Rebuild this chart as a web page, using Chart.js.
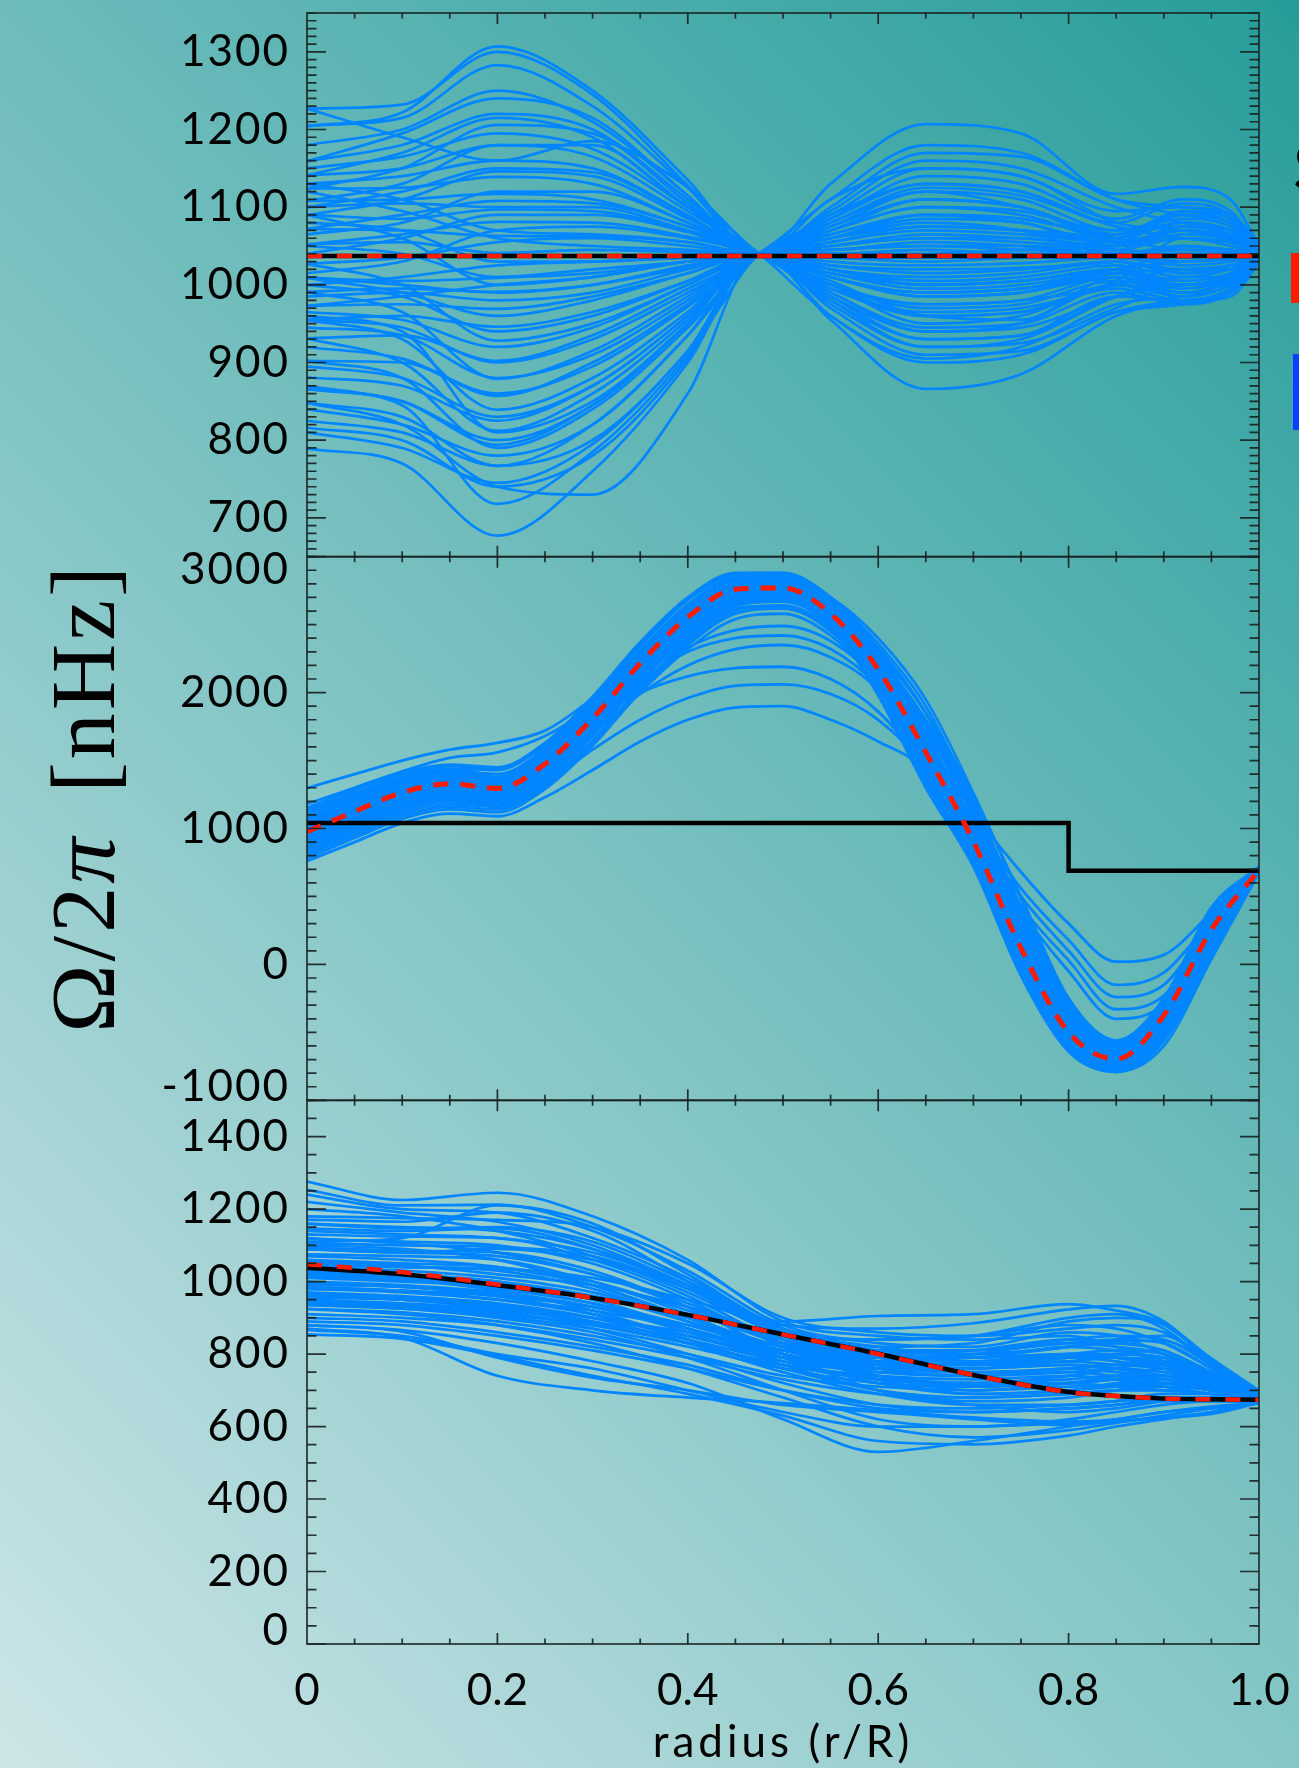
<!DOCTYPE html>
<html>
<head>
<meta charset="utf-8">
<script src="https://cdn.jsdelivr.net/npm/chart.js@4.4.1/dist/chart.umd.min.js"></script>
<style>
  html, body { margin: 0; padding: 0; overflow: hidden; background: #8cc6c6; }
  canvas { display: block; }
</style>
</head>
<body>
<canvas id="omega" width="1299" height="1768"></canvas>
<script>
// radius grids (r/R) for each panel
const TOP_R = [0, 0.1, 0.2, 0.3, 0.4, 0.475, 0.55, 0.65, 0.75, 0.85, 0.92, 0.97, 1.0];
const MID_R = [0, 0.05, 0.1, 0.15, 0.2, 0.25, 0.3, 0.35, 0.4, 0.45, 0.5, 0.55, 0.6, 0.65, 0.7, 0.75, 0.8, 0.85, 0.9, 0.95, 1.0];
const BOT_R = [0, 0.1, 0.2, 0.3, 0.4, 0.5, 0.6, 0.7, 0.8, 0.85, 0.9, 0.95, 1.0];

// input profiles (black) and mean of inversions (red dashed), nHz
const TOP_LINE_R = [0, 1];
const TOP_TRUE = [1037, 1037];
const TOP_MEAN = [1037, 1037];
const MID_TRUE_R = [0, 0.8, 0.8, 1.0];
const MID_TRUE = [1040, 1040, 690, 690];
const MID_MEAN = [977, 1125, 1265, 1330, 1295, 1475, 1810, 2215, 2555, 2760, 2770, 2580, 2170, 1560, 905, 120, -500, -695, -375, 255, 695];
const BOT_TRUE = [1038, 1020, 990, 955, 908, 854, 801, 742, 695, 684, 677, 675, 674];
const BOT_MEAN = [1048, 1026, 992, 955, 908, 854, 800, 742, 695, 684, 677, 675, 674];

// individual inversions, uniform rotation
const TOP_RUNS = [
  [1204, 1222, 1307, 1250, 1135, 1040, 1110, 1150, 1140, 1080, 1070, 1060, 1045],
  [1227, 1232, 1300, 1245, 1128, 1040, 1005, 960, 955, 1010, 1000, 1012, 1035],
  [1205, 1215, 1283, 1230, 1125, 1040, 1080, 1120, 1100, 1060, 1095, 1085, 1050],
  [1227, 1190, 1160, 1185, 1125, 1040, 1000, 950, 960, 1000, 990, 1005, 1030],
  [1159, 1195, 1240, 1215, 1115, 1040, 1130, 1207, 1195, 1117, 1126, 1110, 1050],
  [1159, 1180, 1220, 1200, 1110, 1040, 1060, 1080, 1070, 1040, 1050, 1045, 1040],
  [1141, 1170, 1215, 1190, 1100, 1040, 960, 905, 920, 975, 985, 1000, 1030],
  [1124, 1150, 1206, 1195, 1105, 1040, 1100, 1170, 1165, 1110, 1100, 1090, 1055],
  [1141, 1150, 1180, 1165, 1095, 1040, 1020, 1010, 1015, 1030, 1020, 1025, 1035],
  [1108, 1130, 1180, 1180, 1100, 1040, 1085, 1140, 1130, 1085, 1110, 1095, 1050],
  [1090, 1110, 1146, 1140, 1085, 1040, 990, 940, 950, 1000, 985, 1000, 1030],
  [1124, 1125, 1139, 1130, 1080, 1040, 1070, 1100, 1095, 1070, 1085, 1075, 1045],
  [1108, 1110, 1117, 1110, 1075, 1040, 1010, 985, 990, 1010, 990, 1005, 1035],
  [1072, 1090, 1108, 1105, 1075, 1040, 1075, 1120, 1110, 1070, 1075, 1070, 1045],
  [1090, 1085, 1097, 1095, 1070, 1040, 1050, 1060, 1060, 1050, 1060, 1055, 1042],
  [1052, 1065, 1081, 1080, 1062, 1040, 1000, 960, 965, 995, 980, 995, 1032],
  [1072, 1070, 1063, 1062, 1055, 1040, 1065, 1090, 1085, 1065, 1090, 1080, 1048],
  [1052, 1055, 1041, 1045, 1042, 1040, 1030, 1025, 1028, 1035, 1030, 1035, 1040],
  [1027, 1035, 1055, 1060, 1050, 1040, 1055, 1070, 1065, 1055, 1070, 1062, 1045],
  [1120, 1095, 1060, 1050, 1045, 1040, 1045, 1050, 1045, 1040, 1045, 1042, 1040],
  [1009, 1005, 1009, 1015, 1030, 1040, 1020, 1005, 1010, 1025, 1010, 1020, 1036],
  [991, 995, 991, 1000, 1022, 1040, 1070, 1100, 1090, 1060, 1080, 1070, 1045],
  [973, 975, 969, 985, 1015, 1040, 1010, 985, 990, 1015, 1000, 1010, 1034],
  [955, 960, 946, 965, 1005, 1040, 1060, 1085, 1080, 1050, 1065, 1058, 1043],
  [1027, 1000, 928, 950, 1000, 1040, 995, 960, 965, 1000, 985, 1000, 1032],
  [931, 935, 902, 935, 995, 1040, 1090, 1150, 1140, 1095, 1100, 1085, 1050],
  [991, 965, 879, 915, 985, 1040, 1000, 975, 980, 1010, 995, 1008, 1035],
  [902, 900, 857, 900, 975, 1040, 1045, 1055, 1050, 1040, 1050, 1045, 1040],
  [955, 930, 839, 880, 965, 1040, 980, 930, 935, 985, 980, 995, 1030],
  [881, 870, 825, 870, 960, 1040, 1075, 1110, 1100, 1065, 1095, 1080, 1048],
  [931, 900, 812, 860, 955, 1040, 1025, 1015, 1020, 1030, 1015, 1025, 1038],
  [866, 850, 794, 845, 950, 1040, 990, 945, 950, 990, 975, 990, 1030],
  [902, 880, 790, 840, 945, 1040, 1060, 1090, 1080, 1055, 1070, 1060, 1045],
  [848, 830, 767, 820, 935, 1040, 1010, 990, 995, 1015, 1000, 1012, 1036],
  [825, 810, 767, 800, 915, 1040, 960, 900, 910, 965, 980, 990, 1030],
  [816, 800, 740, 780, 905, 1040, 955, 866, 885, 960, 978, 985, 1028],
  [848, 820, 740, 730, 860, 1040, 1040, 1045, 1040, 1040, 1040, 1040, 1040],
  [789, 770, 677, 760, 900, 1040, 1015, 1000, 1005, 1020, 1005, 1015, 1036],
  [866, 845, 718, 785, 910, 1040, 1070, 1110, 1100, 1065, 1080, 1070, 1046],
  [1009, 990, 960, 980, 1015, 1040, 1020, 1000, 1005, 1020, 1000, 1012, 1036],
  [1050, 1040, 1010, 1020, 1030, 1040, 985, 930, 935, 985, 1000, 1005, 1032],
  [973, 985, 1000, 1010, 1030, 1040, 1050, 1065, 1060, 1050, 1070, 1062, 1044],
  [1080, 1070, 1030, 1030, 1035, 1040, 1035, 1030, 1035, 1040, 1030, 1035, 1040],
  [955, 945, 900, 930, 990, 1040, 1110, 1180, 1170, 1110, 1090, 1080, 1050],
  [1000, 985, 940, 960, 1005, 1040, 975, 920, 925, 970, 1000, 1000, 1030],
  [1100, 1105, 1100, 1100, 1070, 1040, 1000, 975, 980, 1005, 1060, 1050, 1040],
  [1180, 1200, 1250, 1210, 1115, 1040, 1090, 1130, 1120, 1080, 1105, 1090, 1050],
  [1150, 1165, 1195, 1175, 1100, 1040, 1015, 995, 1000, 1020, 1040, 1035, 1040],
  [1130, 1140, 1160, 1150, 1090, 1040, 1095, 1160, 1150, 1100, 1080, 1070, 1045],
  [1100, 1120, 1150, 1145, 1088, 1040, 1040, 1040, 1045, 1050, 1075, 1065, 1045],
  [1065, 1080, 1120, 1120, 1080, 1040, 980, 920, 930, 985, 1010, 1010, 1035],
  [1040, 1060, 1090, 1090, 1068, 1040, 1085, 1130, 1120, 1075, 1060, 1055, 1042],
  [1015, 1030, 1070, 1075, 1060, 1040, 1010, 990, 995, 1015, 1020, 1025, 1038],
  [1000, 1010, 1025, 1030, 1035, 1040, 1060, 1075, 1070, 1055, 1090, 1080, 1048],
  [985, 990, 980, 990, 1020, 1040, 1025, 1020, 1022, 1030, 1050, 1045, 1040],
  [965, 955, 920, 945, 1000, 1040, 1050, 1060, 1055, 1045, 1035, 1038, 1040],
  [945, 935, 880, 910, 980, 1040, 995, 965, 970, 1000, 1020, 1020, 1036],
  [920, 905, 860, 895, 972, 1040, 1080, 1125, 1115, 1075, 1060, 1055, 1044],
  [895, 880, 830, 870, 960, 1040, 1000, 970, 975, 1005, 990, 1005, 1034],
  [870, 850, 800, 845, 950, 1040, 1035, 1035, 1035, 1035, 1025, 1030, 1038],
  [840, 820, 780, 820, 935, 1040, 1065, 1090, 1085, 1060, 1045, 1045, 1040],
  [810, 790, 745, 795, 915, 1040, 985, 940, 945, 985, 1000, 1005, 1034],
  [960, 940, 810, 850, 950, 1040, 1020, 1000, 1005, 1020, 1030, 1032, 1038],
  [1090, 1060, 1000, 1010, 1030, 1040, 1045, 1050, 1050, 1045, 1060, 1055, 1042],
  [1010, 1000, 990, 1000, 1025, 1040, 970, 910, 915, 965, 975, 990, 1030],
  [1130, 1110, 1070, 1065, 1055, 1040, 1055, 1075, 1070, 1055, 1015, 1020, 1036]
];

// individual inversions, core/envelope step profile
const MID_RUNS = [
  [990, 1140, 1280, 1350, 1320, 1500, 1840, 2240, 2580, 2790, 2810, 2630, 2230, 1640, 980, 190, -430, -660, -380, 230, 690],
  [940, 1090, 1230, 1300, 1260, 1430, 1760, 2160, 2500, 2710, 2730, 2540, 2120, 1500, 840, 60, -560, -740, -430, 210, 690],
  [1050, 1190, 1320, 1390, 1360, 1540, 1880, 2280, 2620, 2830, 2850, 2670, 2280, 1800, 1200, 380, -300, -600, -300, 380, 710],
  [900, 1050, 1190, 1250, 1210, 1380, 1700, 2090, 2430, 2650, 2680, 2500, 2100, 1500, 860, 80, -540, -760, -520, 80, 680],
  [1010, 1160, 1290, 1350, 1300, 1470, 1790, 2190, 2530, 2740, 2750, 2550, 2130, 1500, 830, 40, -570, -770, -450, 220, 700],
  [960, 1110, 1250, 1310, 1275, 1450, 1780, 2180, 2520, 2730, 2760, 2590, 2200, 1610, 960, 170, -460, -680, -350, 270, 705],
  [870, 1020, 1160, 1230, 1200, 1370, 1690, 2080, 2410, 2620, 2640, 2460, 2060, 1460, 810, 40, -560, -740, -470, 150, 690],
  [1100, 1240, 1360, 1420, 1400, 1590, 1940, 2340, 2680, 2870, 2880, 2700, 2310, 1850, 1240, 500, -250, -560, -250, 420, 720],
  [820, 970, 1110, 1180, 1160, 1320, 1640, 2030, 2370, 2590, 2620, 2450, 2060, 1400, 770, -60, -620, -780, -560, 60, 680],
  [1000, 1150, 1280, 1330, 1290, 1460, 1800, 2200, 2540, 2770, 2800, 2640, 2260, 1670, 1000, 210, -420, -650, -340, 260, 700],
  [930, 1080, 1220, 1290, 1250, 1420, 1740, 2130, 2470, 2690, 2710, 2520, 2110, 1490, 830, 40, -580, -780, -560, 120, 690],
  [1130, 1260, 1380, 1440, 1430, 1620, 1960, 2360, 2690, 2870, 2870, 2680, 2280, 1780, 1150, 420, -300, -600, -260, 400, 715],
  [850, 1000, 1150, 1220, 1190, 1360, 1680, 2080, 2420, 2640, 2670, 2500, 2110, 1520, 880, 110, -500, -700, -390, 230, 695],
  [980, 1130, 1270, 1340, 1310, 1490, 1830, 2230, 2570, 2780, 2790, 2600, 2190, 1580, 920, 130, -490, -690, -370, 250, 695],
  [1060, 1200, 1330, 1390, 1350, 1520, 1850, 2250, 2590, 2800, 2820, 2650, 2270, 1690, 1030, 240, -400, -650, -320, 350, 705],
  [910, 1060, 1200, 1270, 1240, 1420, 1750, 2150, 2490, 2700, 2720, 2530, 2130, 1530, 880, 90, -530, -730, -410, 220, 690],
  [800, 950, 1090, 1160, 1140, 1310, 1620, 2000, 2320, 2540, 2580, 2420, 2050, 1390, 760, -80, -640, -790, -600, 40, 675],
  [1020, 1170, 1300, 1360, 1320, 1490, 1820, 2220, 2560, 2770, 2790, 2620, 2230, 1640, 970, 180, -450, -680, -370, 240, 700],
  [1080, 1220, 1340, 1400, 1370, 1560, 1900, 2300, 2640, 2840, 2850, 2660, 2250, 1650, 990, 200, -440, -670, -360, 250, 700],
  [780, 930, 1070, 1140, 1120, 1290, 1610, 2010, 2350, 2580, 2620, 2470, 2090, 1480, 840, 60, -550, -760, -450, 200, 690],
  [960, 1100, 1240, 1320, 1300, 1480, 1820, 2220, 2560, 2770, 2780, 2590, 2180, 1560, 880, 80, -560, -770, -480, 160, 690],
  [1150, 1280, 1400, 1460, 1440, 1610, 1930, 2310, 2630, 2810, 2820, 2640, 2240, 1660, 1010, 230, -410, -640, -330, 270, 700],
  [1040, 1180, 1310, 1370, 1340, 1520, 1870, 2270, 2610, 2810, 2830, 2660, 2300, 1760, 1130, 330, -330, -610, -300, 320, 705],
  [880, 1030, 1170, 1240, 1210, 1380, 1700, 2090, 2430, 2650, 2690, 2510, 2060, 1420, 780, -20, -600, -780, -520, 100, 685],
  [990, 1130, 1260, 1320, 1290, 1470, 1810, 2210, 2550, 2760, 2780, 2600, 2250, 1720, 1100, 300, -350, -620, -290, 330, 705],
  [920, 1070, 1210, 1280, 1250, 1430, 1770, 2170, 2510, 2720, 2740, 2550, 2100, 1450, 790, 0, -590, -770, -500, 140, 688],
  [1070, 1220, 1350, 1410, 1380, 1570, 1910, 2310, 2650, 2850, 2860, 2680, 2300, 1740, 1090, 300, -360, -630, -310, 310, 705],
  [840, 990, 1130, 1200, 1170, 1340, 1650, 2040, 2390, 2610, 2640, 2480, 2080, 1440, 800, 20, -590, -770, -470, 180, 690],
  [1000, 1150, 1290, 1360, 1330, 1500, 1830, 2220, 2560, 2770, 2790, 2620, 2240, 1650, 1010, 230, -420, -660, -350, 260, 700],
  [950, 1100, 1240, 1310, 1280, 1460, 1790, 2190, 2530, 2740, 2760, 2570, 2160, 1540, 870, 70, -560, -760, -460, 190, 690],
  [1150, 1290, 1410, 1470, 1450, 1630, 1970, 2370, 2700, 2880, 2880, 2700, 2320, 1740, 1080, 280, -370, -620, -300, 320, 705],
  [860, 1010, 1150, 1220, 1200, 1380, 1710, 2110, 2450, 2670, 2700, 2530, 2140, 1550, 900, 120, -500, -720, -420, 210, 692],
  [1020, 1170, 1300, 1370, 1340, 1520, 1860, 2270, 2620, 2830, 2850, 2700, 2400, 1950, 1260, 480, -280, -580, -280, 360, 710],
  [930, 1080, 1220, 1290, 1260, 1440, 1770, 2170, 2510, 2720, 2730, 2500, 1980, 1300, 720, -80, -630, -790, -560, 90, 680],
  [1060, 1200, 1330, 1400, 1370, 1550, 1890, 2290, 2630, 2830, 2840, 2690, 2360, 1900, 1200, 420, -320, -600, -290, 350, 708],
  [890, 1040, 1180, 1250, 1220, 1400, 1720, 2120, 2460, 2680, 2700, 2480, 2000, 1340, 740, -50, -610, -780, -540, 110, 684],
  [970, 1120, 1260, 1330, 1300, 1480, 1810, 2210, 2550, 2760, 2790, 2650, 2330, 1850, 1150, 350, -380, -640, -320, 300, 702],
  [1010, 1150, 1290, 1350, 1320, 1500, 1830, 2230, 2570, 2780, 2780, 2560, 2050, 1360, 760, -30, -600, -780, -500, 130, 686],
  [1297, 1400, 1500, 1580, 1630, 1720, 1960, 2280, 2560, 2700, 2690, 2500, 2120, 1540, 900, 160, -420, -600, -300, 260, 700],
  [1180, 1300, 1420, 1520, 1560, 1680, 1900, 2200, 2480, 2660, 2680, 2520, 2140, 1560, 930, 180, -380, -580, -320, 230, 695],
  [760, 900, 1040, 1110, 1090, 1230, 1430, 1640, 1800, 1890, 1900, 1800, 1640, 1420, 860, 90, -520, -720, -410, 220, 690],
  [870, 1010, 1150, 1210, 1180, 1330, 1580, 1800, 1960, 2050, 2060, 1990, 1800, 1450, 880, 110, -500, -700, -390, 230, 695],
  [1120, 1250, 1370, 1430, 1400, 1550, 1800, 2000, 2120, 2180, 2190, 2100, 1860, 1440, 870, 100, -510, -710, -400, 220, 690],
  [950, 1100, 1240, 1300, 1260, 1420, 1700, 1990, 2200, 2320, 2350, 2260, 2020, 1520, 900, 120, -490, -700, -390, 230, 695],
  [1000, 1140, 1270, 1330, 1290, 1460, 1760, 2080, 2300, 2400, 2420, 2320, 2040, 1530, 880, 90, -520, -720, -400, 230, 695],
  [900, 1040, 1180, 1250, 1220, 1390, 1700, 2060, 2330, 2460, 2490, 2380, 2080, 1520, 860, 70, -540, -730, -410, 220, 690],
  [1000, 1150, 1290, 1350, 1310, 1490, 1830, 2230, 2570, 2770, 2780, 2600, 2220, 1660, 1120, 680, 300, 20, 70, 380, 705],
  [940, 1090, 1230, 1300, 1270, 1440, 1770, 2170, 2510, 2720, 2740, 2560, 2180, 1620, 1060, 560, 180, -150, -60, 330, 700],
  [1070, 1210, 1340, 1400, 1370, 1550, 1880, 2270, 2600, 2800, 2800, 2610, 2210, 1630, 1030, 500, 100, -240, -150, 300, 700],
  [890, 1040, 1180, 1250, 1220, 1400, 1730, 2130, 2470, 2690, 2710, 2530, 2150, 1580, 990, 430, 30, -330, -230, 280, 695],
  [1030, 1170, 1300, 1360, 1330, 1510, 1850, 2250, 2590, 2790, 2800, 2620, 2230, 1640, 1000, 400, -50, -400, -290, 260, 695]
];

// individual inversions, smooth decreasing profile
const BOT_RUNS = [
  [1276, 1225, 1245, 1180, 1060, 890, 850, 840, 850, 820, 780, 720, 685],
  [1253, 1210, 1212, 1150, 1030, 880, 830, 820, 860, 850, 800, 740, 690],
  [1220, 1190, 1165, 1100, 990, 860, 800, 790, 820, 810, 780, 730, 680],
  [1171, 1165, 1190, 1140, 1000, 840, 760, 740, 760, 750, 740, 720, 675],
  [1159, 1147, 1150, 1110, 1000, 890, 905, 910, 938, 920, 885, 788, 700],
  [1147, 1140, 1147, 1090, 980, 850, 780, 770, 790, 800, 790, 750, 685],
  [1130, 1124, 1120, 1060, 960, 830, 740, 700, 720, 740, 760, 740, 680],
  [1118, 1110, 1100, 1050, 950, 820, 730, 690, 700, 710, 720, 700, 675],
  [1106, 1100, 1095, 1070, 980, 860, 820, 830, 890, 900, 880, 780, 690],
  [1094, 1085, 1080, 1030, 930, 800, 700, 660, 640, 650, 670, 680, 670],
  [1089, 1080, 1070, 1020, 940, 840, 790, 780, 800, 790, 760, 720, 680],
  [1075, 1070, 1060, 1000, 910, 800, 760, 760, 780, 770, 760, 730, 680],
  [1060, 1050, 1040, 1000, 920, 830, 800, 810, 840, 830, 810, 750, 685],
  [1050, 1040, 1030, 980, 890, 790, 720, 690, 700, 720, 730, 700, 675],
  [1040, 1030, 1010, 970, 900, 820, 780, 770, 790, 780, 760, 720, 680],
  [1030, 1020, 1000, 950, 870, 780, 730, 720, 740, 760, 780, 740, 680],
  [1020, 1010, 990, 960, 910, 850, 840, 850, 880, 870, 830, 760, 685],
  [1010, 1000, 985, 940, 870, 790, 760, 760, 770, 760, 740, 710, 678],
  [1000, 990, 970, 930, 860, 770, 700, 670, 680, 700, 720, 700, 672],
  [990, 985, 960, 910, 840, 760, 720, 710, 720, 710, 700, 690, 670],
  [980, 970, 950, 920, 870, 800, 770, 760, 770, 760, 740, 710, 678],
  [970, 960, 940, 900, 830, 750, 690, 660, 660, 670, 690, 690, 670],
  [960, 950, 930, 890, 840, 780, 750, 740, 750, 740, 730, 710, 675],
  [950, 940, 920, 870, 800, 720, 660, 640, 650, 660, 670, 670, 668],
  [940, 930, 910, 880, 830, 770, 740, 730, 740, 730, 710, 690, 672],
  [936, 925, 900, 860, 790, 700, 620, 600, 620, 640, 660, 670, 668],
  [924, 910, 880, 830, 760, 680, 600, 570, 590, 610, 630, 650, 665],
  [900, 890, 860, 820, 770, 700, 650, 640, 650, 660, 680, 680, 668],
  [880, 866, 830, 780, 720, 620, 530, 560, 600, 620, 640, 655, 665],
  [866, 850, 800, 760, 700, 640, 600, 600, 610, 615, 625, 640, 665],
  [854, 842, 795, 740, 690, 630, 560, 551, 575, 600, 620, 640, 665],
  [880, 862, 790, 735, 700, 660, 640, 620, 604, 614, 624, 635, 665],
  [870, 845, 740, 700, 680, 665, 645, 625, 614, 620, 640, 650, 665],
  [1180, 1175, 1170, 1150, 1050, 900, 860, 850, 870, 880, 860, 780, 690],
  [1110, 1120, 1210, 1160, 1020, 870, 820, 800, 820, 840, 850, 770, 688],
  [1045, 1040, 1035, 1010, 950, 880, 870, 885, 923, 933, 890, 780, 698],
  [1015, 1005, 980, 940, 880, 810, 780, 790, 820, 836, 836, 770, 690],
  [985, 975, 950, 910, 850, 790, 770, 775, 790, 790, 770, 730, 680],
  [955, 950, 930, 900, 860, 810, 790, 790, 800, 790, 770, 730, 680],
  [1070, 1060, 1040, 990, 900, 800, 740, 720, 720, 730, 740, 720, 676],
  [1120, 1105, 1080, 1020, 930, 830, 770, 750, 760, 770, 770, 730, 680],
  [925, 915, 890, 850, 800, 740, 710, 700, 710, 715, 720, 705, 672],
  [1100, 1090, 1060, 990, 900, 820, 790, 800, 830, 820, 800, 740, 682],
  [960, 950, 925, 885, 830, 770, 730, 715, 720, 730, 740, 720, 675],
  [1240, 1200, 1190, 1120, 1010, 870, 810, 800, 820, 830, 810, 750, 685],
  [1200, 1180, 1140, 1070, 970, 850, 790, 780, 800, 810, 800, 745, 685],
  [1140, 1130, 1120, 1080, 990, 870, 840, 850, 900, 910, 870, 770, 690],
  [1090, 1080, 1090, 1060, 980, 860, 800, 790, 800, 800, 790, 750, 684],
  [1055, 1045, 1020, 990, 930, 850, 810, 810, 830, 840, 830, 760, 686],
  [1025, 1015, 1000, 960, 890, 810, 770, 770, 790, 800, 790, 740, 680],
  [995, 985, 965, 930, 870, 800, 760, 750, 760, 770, 770, 730, 678],
  [965, 955, 935, 900, 850, 790, 750, 740, 750, 760, 750, 720, 676],
  [935, 925, 905, 870, 820, 760, 720, 710, 720, 730, 720, 700, 672],
  [910, 900, 880, 840, 790, 730, 690, 680, 690, 700, 700, 690, 670],
  [890, 880, 850, 810, 760, 700, 660, 650, 660, 670, 680, 680, 668],
  [1020, 1005, 975, 920, 840, 760, 700, 680, 690, 700, 710, 700, 672],
  [1160, 1150, 1140, 1090, 990, 860, 790, 770, 780, 790, 780, 740, 682],
  [980, 975, 960, 930, 880, 820, 800, 810, 840, 850, 840, 770, 688],
  [945, 935, 915, 880, 830, 770, 730, 720, 730, 740, 740, 715, 674]
];

// axis ticks and labels
const TOP_TICKS = [700, 800, 900, 1000, 1100, 1200, 1300];
const TOP_LABELS = ['700', '800', '900', '1000', '1100', '1200', '1300'];
const MID_TICKS = [-1000, 0, 1000, 2000, 3000];
const MID_LABELS = ['-1000', '0', '1000', '2000', '3000'];
const BOT_TICKS = [0, 200, 400, 600, 800, 1000, 1200, 1400];
const BOT_LABELS = ['0', '200', '400', '600', '800', '1000', '1200', '1400'];
const X_TICKS = [0, 0.2, 0.4, 0.6, 0.8, 1.0];
const X_LABELS = ['0', '0.2', '0.4', '0.6', '0.8', '1.0'];

const BLUE = '#0286ff';
const RED = '#ff1a00';
const AXIS = 'rgba(25,35,35,0.92)';
const LABEL_FONT = '44px Lato';

function pts(xs, ys) {
  return xs.map((x, i) => ({ x: x, y: ys[i] }));
}

function curve(xs, ys, axis, color, width, order, extra) {
  return Object.assign({
    data: pts(xs, ys),
    yAxisID: axis,
    borderColor: color,
    borderWidth: width,
    pointRadius: 0,
    fill: false,
    cubicInterpolationMode: 'monotone',
    order: order
  }, extra || {});
}

const datasets = [];
// red dashed means on top, black inputs under them, blue runs at the bottom
datasets.push(curve(TOP_LINE_R, TOP_MEAN, 'yTop', RED, 4.5, 0, { borderDash: [15, 15], tension: 0, cubicInterpolationMode: 'default' }));
datasets.push(curve(MID_R, MID_MEAN, 'yMid', RED, 5, 0, { borderDash: [15, 12] }));
datasets.push(curve(BOT_R, BOT_MEAN, 'yBot', RED, 4.5, 0, { borderDash: [15, 15] }));
datasets.push(curve(TOP_LINE_R, TOP_TRUE, 'yTop', '#000', 4.5, 1, { tension: 0, cubicInterpolationMode: 'default' }));
datasets.push(curve(MID_TRUE_R, MID_TRUE, 'yMid', '#000', 4.5, 1, { tension: 0, cubicInterpolationMode: 'default' }));
datasets.push(curve(BOT_R, BOT_TRUE, 'yBot', '#000', 4.5, 1));
TOP_RUNS.forEach(r => datasets.push(curve(TOP_R, r, 'yTop', BLUE, 2.7, 2)));
MID_RUNS.forEach(r => datasets.push(curve(MID_R, r, 'yMid', BLUE, 2.8, 2)));
BOT_RUNS.forEach(r => datasets.push(curve(BOT_R, r, 'yBot', BLUE, 2.7, 2)));

const PANELS = [
  { id: 'yTop', ticks: TOP_TICKS, labels: TOP_LABELS, minor: 10 },
  { id: 'yMid', ticks: MID_TICKS, labels: MID_LABELS, minor: 100 },
  { id: 'yBot', ticks: BOT_TICKS, labels: BOT_LABELS, minor: 50 }
];

function drawYTitle(ctx) {
  // Ω/2π [nHz], read bottom to top
  const size = 92;
  const parts = [
    { t: 'Ω/2', f: size + 'px "Liberation Serif"' },
    { t: 'π', f: 'italic ' + size + 'px "Liberation Serif"' },
    { gap: 42 },
    { t: '[nHz]', f: size + 'px "Liberation Serif"' }
  ];
  ctx.save();
  ctx.letterSpacing = '3px';
  let total = 0;
  parts.forEach(p => {
    if (p.gap) { p.w = p.gap; } else { ctx.font = p.f; p.w = ctx.measureText(p.t).width; }
    total += p.w;
  });
  ctx.translate(114, 798);
  ctx.rotate(-Math.PI / 2);
  ctx.fillStyle = '#000';
  ctx.textBaseline = 'alphabetic';
  ctx.textAlign = 'left';
  let x = -total / 2;
  parts.forEach(p => {
    if (!p.gap) { ctx.font = p.f; ctx.fillText(p.t, x, 0); }
    x += p.w;
  });
  ctx.restore();
}

const frame = {
  id: 'frame',
  beforeDraw(chart) {
    const ctx = chart.ctx;
    const g = ctx.createLinearGradient(0, 1768, 1533, 235);
    g.addColorStop(0, 'rgb(205,229,231)');
    g.addColorStop(1, 'rgb(38,157,154)');
    ctx.save();
    ctx.fillStyle = g;
    ctx.fillRect(0, 0, chart.width, chart.height);
    ctx.restore();
  },
  afterDatasetsDraw(chart) {
    const ctx = chart.ctx;
    const a = chart.chartArea;
    const xs = chart.scales.x;
    ctx.save();
    ctx.strokeStyle = AXIS;
    ctx.lineWidth = 1.7;
    PANELS.forEach(p => {
      const s = chart.scales[p.id];
      const top = s.top, bot = s.bottom;
      ctx.strokeRect(a.left, top, a.right - a.left, bot - top);
      ctx.beginPath();
      const n = Math.round((s.max - s.min) / p.minor);
      for (let i = 0; i <= n; i++) {
        const v = s.min + i * p.minor;
        const y = s.getPixelForValue(v);
        const len = p.ticks.includes(v) ? 19 : 9.5;
        ctx.moveTo(a.left, y); ctx.lineTo(a.left + len, y);
        ctx.moveTo(a.right, y); ctx.lineTo(a.right - len, y);
      }
      for (let i = 1; i < 20; i++) {
        const x = xs.getPixelForValue(i * 0.05);
        const len = i % 4 === 0 ? 11 : 5.5;
        ctx.moveTo(x, top); ctx.lineTo(x, top + len);
        ctx.moveTo(x, bot); ctx.lineTo(x, bot - len);
      }
      ctx.stroke();

      ctx.fillStyle = '#000';
      ctx.font = LABEL_FONT;
      ctx.letterSpacing = '2px';
      ctx.textAlign = 'right';
      ctx.textBaseline = 'middle';
      p.ticks.forEach((v, i) => {
        let y = s.getPixelForValue(v);
        if (y - top < 13) y = top + 13.5;
        if (bot - y < 13) y = bot - 13.5;
        ctx.fillText(p.labels[i], a.left - 17, y);
      });
      ctx.letterSpacing = '0px';
    });

    ctx.fillStyle = '#000';
    ctx.font = LABEL_FONT;
    ctx.textAlign = 'center';
    ctx.textBaseline = 'middle';
    X_TICKS.forEach((v, i) => ctx.fillText(X_LABELS[i], xs.getPixelForValue(v), 1691));
    ctx.letterSpacing = '4px';
    ctx.fillText('radius (r/R)', (a.left + a.right) / 2, 1743);
    ctx.letterSpacing = '0px';

    drawYTitle(ctx);

    // legend swatches running off the right edge
    ctx.fillStyle = RED;
    ctx.fillRect(1291, 253, 10, 50);
    ctx.fillStyle = '#0d3dff';
    ctx.fillRect(1293, 354, 8, 76);
    ctx.fillStyle = '#000';
    ctx.font = '64px Lato';
    ctx.textAlign = 'left';
    ctx.textBaseline = 'alphabetic';
    ctx.fillText('S', 1293, 190);
    ctx.restore();
  }
};

const yAxis = (min, max) => ({
  type: 'linear',
  position: 'left',
  stack: 'panels',
  stackWeight: 1,
  min: min,
  max: max,
  ticks: { display: false },
  grid: { display: false },
  border: { display: false },
  afterFit: s => { s.width = 307; }
});

new Chart(document.getElementById('omega'), {
  type: 'line',
  data: { datasets: datasets },
  options: {
    responsive: false,
    animation: false,
    devicePixelRatio: 1,
    events: [],
    layout: { padding: { left: 0, top: 13, right: 40, bottom: 0 } },
    plugins: { legend: { display: false }, tooltip: { enabled: false } },
    scales: {
      x: {
        type: 'linear',
        min: 0,
        max: 1,
        ticks: { display: false },
        grid: { display: false },
        border: { display: false },
        afterFit: s => { s.height = 124; }
      },
      yBot: yAxis(0, 1500),
      yMid: yAxis(-1000, 3000),
      yTop: yAxis(650, 1350)
    }
  },
  plugins: [frame]
});
</script>
</body>
</html>
